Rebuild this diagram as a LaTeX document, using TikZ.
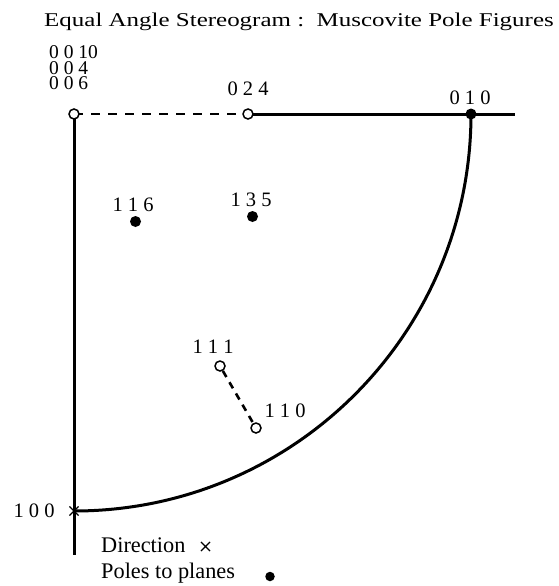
\documentclass[tikz,border=0pt]{standalone}
\usepackage{fontspec}
\usetikzlibrary{shapes.misc}
\setmainfont{Liberation Serif}
\newfontfamily\titlefont[FakeStretch=1.28]{Liberation Serif}
\begin{document}
\begin{tikzpicture}[x=1pt,y=-1pt,
  axis/.style={line width=3pt},
  dashline/.style={line width=2.8pt, dash pattern=on 9pt off 8pt},
  shortdash/.style={line width=2.6pt, dash pattern=on 7pt off 6pt},
  opendot/.style={circle, draw, line width=1.5pt, fill=white, inner sep=0pt, minimum size=10pt},
  fulldot/.style={circle, fill=black, inner sep=0pt, minimum size=11pt},
  xmark/.style={cross out, draw, line width=1.1pt, inner sep=0pt, minimum size=#1},
  lbl/.style={inner sep=0pt, font=\fontsize{20.5}{20.5}\selectfont},
  legend/.style={inner sep=0pt, anchor=west, font=\fontsize{22.3}{22.3}\selectfont}]
\useasboundingbox (0,0) rectangle (559,586);
\node[inner sep=0pt, font=\titlefont\fontsize{19.5}{19.5}\selectfont] (title) at (299,21.5) {Equal Angle Stereogram :\ \ Muscovite Pole Figures};
% axes
\coordinate (O) at (74,114);
\coordinate (R) at (515,114);
\coordinate (B) at (74,555);
\coordinate (P100) at (74,511);
\draw[axis] (O) -- (B);
\draw[axis] (248,114) coordinate (P024c) -- (R);
\draw[dashline] (O) -- (P024c);
\draw[axis] (471,114) coordinate (P010c) arc[start angle=0, end angle=-90, radius=397pt];
% points
\node[opendot] (p0010) at (O) {};
\node[opendot] (p024) at (P024c) {};
\node[fulldot] (p010) at (P010c) {};
\node[fulldot] (p116) at (135.5,221.5) {};
\node[fulldot] (p135) at (252.5,216.5) {};
\node[opendot] (p111) at (220,366) {};
\node[opendot] (p110) at (256,428) {};
\draw[shortdash] (p111) -- (p110);
\node[xmark=8pt] (x100) at (P100) {};
% labels
\node[lbl, anchor=north west, align=left, font=\fontsize{19.5}{15.5}\selectfont] (l0010) at (49,45.5) {0 0 10\\0 0 4\\0 0 6};
\node[lbl] (l024) at (248,89) {0 2 4};
\node[lbl] (l010) at (470,98) {0 1 0};
\node[lbl] (l116) at (133,205) {1 1 6};
\node[lbl] (l135) at (251,200) {1 3 5};
\node[lbl] (l111) at (213,347) {1 1 1};
\node[lbl] (l110) at (285,411) {1 1 0};
\node[lbl] (l100) at (34,511) {1 0 0};
% legend
\node[legend] (ldir) at (101,545) {Direction};
\node[xmark=8pt] (lx) at (205.5,546.5) {};
\node[legend] (lpol) at (101,573) {Poles to planes};
\node[fulldot, minimum size=9.5pt] (ldot) at (270,576.5) {};
\end{tikzpicture}
\end{document}
